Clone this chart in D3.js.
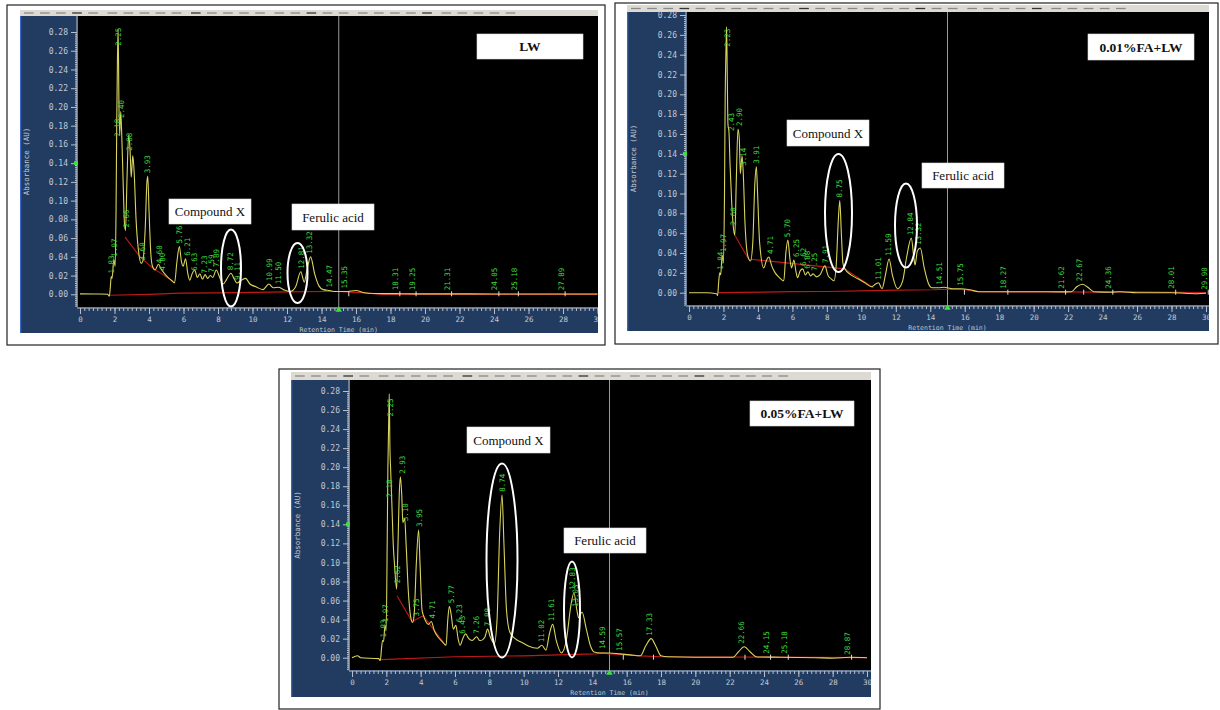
<!DOCTYPE html>
<html>
<head>
<meta charset="utf-8">
<script src="https://cdn.jsdelivr.net/npm/d3@7"></script>
<style>
  body { margin: 0; background: #fff; }
  svg { display: block; }
</style>
</head>
<body>
<div id="chart"></div>
<script>
// axis ticks
const absTicks = [0.00, 0.02, 0.04, 0.06, 0.08, 0.10, 0.12, 0.14, 0.16, 0.18, 0.20, 0.22, 0.24, 0.26, 0.28];
const timeTicks = [0, 2, 4, 6, 8, 10, 12, 14, 16, 18, 20, 22, 24, 26, 28, 30];

// LW : [retention time (min), absorbance (AU)]
const lwTrace = [
  [0, 0.0005], [1.0, 0.0003], [1.6, 0.0], [1.7, -0.002], [1.76, 0.008], [1.81, 0.019], [1.86, 0.017],
  [1.96, 0.037], [2.04, 0.030], [2.09, 0.09], [2.13, 0.183], [2.17, 0.25], [2.21, 0.283], [2.26, 0.20],
  [2.30, 0.17], [2.36, 0.195], [2.42, 0.17], [2.50, 0.12], [2.58, 0.075], [2.64, 0.068], [2.72, 0.12],
  [2.82, 0.170], [2.90, 0.155], [2.97, 0.125], [3.06, 0.148], [3.14, 0.13], [3.25, 0.08], [3.40, 0.045],
  [3.55, 0.033], [3.65, 0.036], [3.78, 0.07], [3.88, 0.12], [3.93, 0.126], [4.00, 0.09], [4.10, 0.045],
  [4.20, 0.030], [4.35, 0.026], [4.55, 0.032], [4.70, 0.027], [4.90, 0.022], [5.10, 0.018], [5.30, 0.015],
  [5.48, 0.012], [5.62, 0.035], [5.76, 0.051], [5.88, 0.035], [5.98, 0.030], [6.12, 0.038], [6.25, 0.022],
  [6.36, 0.015], [6.50, 0.022], [6.65, 0.026], [6.80, 0.018], [6.95, 0.022], [7.10, 0.016], [7.25, 0.021],
  [7.40, 0.017], [7.55, 0.020], [7.70, 0.018], [7.90, 0.026], [8.10, 0.018], [8.30, 0.011], [8.50, 0.016],
  [8.75, 0.0225], [8.95, 0.016], [9.10, 0.012], [9.35, 0.015], [9.60, 0.017], [9.85, 0.011], [10.2, 0.008],
  [10.6, 0.005], [10.95, 0.011], [11.2, 0.007], [11.5, 0.0075], [11.8, 0.005], [12.2, 0.003], [12.5, 0.008],
  [12.8, 0.024], [13.0, 0.013], [13.15, 0.025], [13.37, 0.040], [13.6, 0.022], [13.85, 0.009], [14.1, 0.005],
  [14.47, 0.004], [14.8, 0.003], [15.5, 0.003], [16.0, 0.004], [16.4, 0.002], [17.0, 0.0008], [18.3, 0.0007],
  [19.3, 0.0005], [21.3, 0.0005], [24.0, 0.0003], [25.2, 0.0003], [27.9, 0.0003], [30, 0.0003]
];
const lwBase = [
  [1.7, -0.001], [4.0, 0.0], [5.8, 0.0012], [8.0, 0.0015], [10.0, 0.002], [12.0, 0.0025], [14.2, 0.003],
  [15.0, 0.003], [16.5, 0.0015], [17.5, 0.0], [30, 0.0]
];
const lwDrop = [[2.61, 0.061], [3.48, 0.040], [4.15, 0.029], [5.41, 0.0135]];
const lwPeaks = [
  [1.83, 0.019], [1.97, 0.037], [2.18, 0.165], [2.25, 0.262], [2.40, 0.185], [2.66, 0.068], [2.88, 0.150],
  [3.60, 0.033], [3.93, 0.126], [4.60, 0.030], [4.80, 0.022], [5.76, 0.051], [6.21, 0.038], [6.63, 0.022],
  [7.23, 0.019], [7.59, 0.020], [7.89, 0.026], [8.72, 0.0225], [9.11, 0.012], [10.99, 0.011], [11.50, 0.0075],
  [12.81, 0.024], [13.32, 0.040], [14.47, 0.004], [15.35, 0.003], [18.31, 0.001], [19.25, 0.001],
  [21.31, 0.001], [24.05, 0.001], [25.18, 0.001], [27.89, 0.001]
];

// 0.01%FA+LW
const fa01Trace = [
  [0, 0.0], [1.0, 0.0], [1.6, -0.001], [1.66, -0.003], [1.72, 0.01], [1.78, 0.02], [1.84, 0.018], [1.92, 0.038],
  [2.0, 0.030], [2.06, 0.10], [2.10, 0.198], [2.14, 0.24], [2.18, 0.268], [2.22, 0.22], [2.26, 0.17],
  [2.32, 0.162], [2.38, 0.13], [2.48, 0.09], [2.58, 0.065], [2.66, 0.058], [2.74, 0.11], [2.84, 0.165],
  [2.92, 0.155], [2.98, 0.12], [3.08, 0.138], [3.15, 0.12], [3.25, 0.07], [3.40, 0.038], [3.57, 0.032],
  [3.70, 0.05], [3.82, 0.11], [3.91, 0.127], [3.98, 0.10], [4.10, 0.05], [4.34, 0.025], [4.50, 0.033],
  [4.63, 0.036], [4.80, 0.027], [5.0, 0.02], [5.2, 0.016], [5.5, 0.012], [5.62, 0.04], [5.74, 0.053],
  [5.85, 0.035], [5.95, 0.025], [6.09, 0.033], [6.20, 0.022], [6.30, 0.015], [6.45, 0.022], [6.60, 0.024],
  [6.75, 0.018], [6.90, 0.021], [7.05, 0.017], [7.20, 0.019], [7.40, 0.016], [7.60, 0.018], [7.89, 0.027],
  [8.05, 0.018], [8.25, 0.014], [8.41, 0.012], [8.55, 0.03], [8.67, 0.075], [8.75, 0.093], [8.84, 0.06],
  [8.93, 0.03], [9.02, 0.025], [9.4, 0.018], [9.8, 0.014], [10.2, 0.01], [10.6, 0.006], [10.85, 0.009],
  [11.0, 0.01], [11.2, 0.004], [11.4, 0.018], [11.61, 0.034], [11.8, 0.018], [12.1, 0.004], [12.4, 0.012],
  [12.62, 0.035], [12.9, 0.055], [13.05, 0.035], [13.12, 0.028], [13.25, 0.042], [13.42, 0.045],
  [13.65, 0.025], [13.9, 0.009], [14.1, 0.005], [14.5, 0.005], [14.8, 0.0055], [15.3, 0.004], [15.75, 0.004],
  [16.3, 0.003], [16.8, 0.001], [18.3, 0.001], [20, 0.001], [21.6, 0.0008], [22.2, 0.001], [22.5, 0.006],
  [22.84, 0.0085], [23.1, 0.006], [23.5, 0.001], [24.4, 0.0005], [25.0, 0.001], [26, 0.0], [28, 0.0],
  [29.5, -0.001], [30, -0.0005]
];
const fa01Base = [
  [1.7, 0.0], [5.9, 0.001], [8.0, 0.0012], [10.7, 0.002], [12.0, 0.0025], [14.2, 0.003], [15.0, 0.0035],
  [16.0, 0.003], [16.8, 0.001], [22.0, 0.0008], [23.5, 0.0005], [24.3, 0.001], [30, 0.0]
];
const fa01Drop = [[2.66, 0.058], [3.45, 0.034], [9.02, 0.024], [10.7, 0.005]];
const fa01Peaks = [
  [1.84, 0.020], [1.97, 0.038], [2.23, 0.245], [2.43, 0.160], [2.60, 0.065], [2.90, 0.165], [3.14, 0.125],
  [3.91, 0.127], [4.71, 0.036], [5.70, 0.053], [6.25, 0.033], [6.62, 0.024], [6.88, 0.021], [7.25, 0.019],
  [7.91, 0.027], [8.75, 0.093], [11.01, 0.010], [11.59, 0.034], [12.84, 0.055], [13.32, 0.045],
  [14.51, 0.005], [15.75, 0.004], [18.27, 0.001], [21.62, 0.001], [22.67, 0.0085], [24.36, 0.001],
  [28.01, 0.001], [29.90, 0.0]
];

// 0.05%FA+LW
const fa05Trace = [
  [0, 0.0], [0.33, 0.002], [0.5, 0.0], [1.55, -0.001], [1.65, -0.003], [1.72, 0.01], [1.78, 0.018],
  [1.84, 0.017], [1.92, 0.034], [1.99, 0.029], [2.05, 0.12], [2.09, 0.198], [2.13, 0.24], [2.17, 0.277],
  [2.21, 0.22], [2.25, 0.198], [2.32, 0.163], [2.40, 0.12], [2.48, 0.097], [2.60, 0.072], [2.68, 0.12],
  [2.76, 0.175], [2.82, 0.19], [2.90, 0.17], [2.96, 0.142], [3.07, 0.146], [3.15, 0.12], [3.28, 0.07],
  [3.40, 0.045], [3.53, 0.037], [3.62, 0.045], [3.75, 0.10], [3.88, 0.134], [3.96, 0.10], [4.08, 0.05],
  [4.17, 0.044], [4.30, 0.038], [4.45, 0.035], [4.62, 0.038], [4.80, 0.028], [5.0, 0.022], [5.25, 0.017],
  [5.48, 0.013], [5.58, 0.04], [5.67, 0.054], [5.78, 0.045], [5.90, 0.030], [6.05, 0.034], [6.18, 0.02],
  [6.30, 0.013], [6.45, 0.02], [6.62, 0.025], [6.80, 0.02], [7.00, 0.018], [7.26, 0.022], [7.45, 0.018],
  [7.62, 0.019], [7.75, 0.022], [7.90, 0.030], [8.05, 0.022], [8.29, 0.015], [8.45, 0.04], [8.60, 0.13],
  [8.74, 0.171], [8.85, 0.12], [9.0, 0.05], [9.19, 0.027], [9.5, 0.02], [9.9, 0.016], [10.3, 0.012],
  [10.8, 0.01], [11.06, 0.013], [11.3, 0.008], [11.5, 0.025], [11.69, 0.035], [11.9, 0.018], [12.2, 0.005],
  [12.5, 0.02], [12.75, 0.055], [12.93, 0.068], [13.1, 0.05], [13.2, 0.042], [13.4, 0.048], [13.65, 0.03],
  [13.9, 0.012], [14.1, 0.006], [14.5, 0.005], [15.0, 0.005], [15.6, 0.004], [16.2, 0.003], [16.8, 0.002],
  [17.1, 0.012], [17.43, 0.020], [17.7, 0.012], [18.0, 0.002], [18.4, 0.001], [20, 0.0005], [22.2, 0.0005],
  [22.5, 0.006], [22.85, 0.0115], [23.2, 0.006], [23.6, 0.0008], [25, 0.0005], [27, 0.0], [28, -0.0005],
  [29, 0.0005], [30, 0.0]
];
const fa05Base = [
  [1.7, -0.002], [6.0, 0.001], [10.0, 0.002], [12.0, 0.003], [14.2, 0.004], [14.6, 0.005], [15.0, 0.004],
  [16.0, 0.003], [16.8, 0.002], [18.0, 0.001], [30, 0.0]
];
const fa05Drop = [[2.62, 0.065], [3.50, 0.038], [4.15, 0.044], [5.45, 0.013]];
const fa05Peaks = [
  [1.83, 0.018], [1.97, 0.034], [2.18, 0.165], [2.25, 0.250], [2.62, 0.075], [2.93, 0.190], [3.10, 0.140],
  [3.75, 0.040], [3.95, 0.134], [4.71, 0.038], [5.77, 0.054], [6.23, 0.034], [6.43, 0.022], [7.26, 0.022],
  [7.88, 0.030], [8.74, 0.171], [11.02, 0.013], [11.61, 0.035], [12.83, 0.068], [13.03, 0.050],
  [14.59, 0.006], [15.57, 0.004], [17.33, 0.020], [22.66, 0.0115], [24.15, 0.001], [25.18, 0.001],
  [28.87, 0.0]
];

const W = 1220, H = 710;
const svg = d3.select("#chart").append("svg")
    .attr("width", W)
    .attr("height", H);

const mono = "'DejaVu Sans Mono', monospace";
const serif = "'Liberation Serif', 'Times New Roman', serif";

// layout of the three screenshots
const panels = [
  { frame: [7, 5, 605, 345], left: 20, right: 598, bar: [10, 16], top: 16, bottom: 307, blueBottom: 333,
    xr: [80, 597.5], yr: [294.3, 32], titleY: 329.5,
    tag: ["LW", 477, 34, 106, 25], cmp: [169, 199, 82, 25], fer: [292, 204, 82, 26],
    cmpEll: [231, 268, 10, 38.5], ferEll: [297.5, 273, 10, 30],
    trace: lwTrace, base: lwBase, drop: lwDrop, peaks: lwPeaks },
  { frame: [615, 3, 1218, 344], left: 627, right: 1209, bar: [5, 12], top: 12, bottom: 305, blueBottom: 331,
    xr: [689, 1206], yr: [292.7, 15], titleY: 327.5,
    tag: ["0.01%FA+LW", 1088, 34, 106, 26], cmp: [787, 120, 82, 26], fer: [922, 163, 82, 25],
    cmpEll: [838.5, 213, 13.5, 59], ferEll: [906, 225.5, 11, 42],
    trace: fa01Trace, base: fa01Base, drop: fa01Drop, peaks: fa01Peaks },
  { frame: [279, 369, 880, 709], left: 291, right: 871, bar: [372, 380], top: 380, bottom: 670, blueBottom: 697,
    xr: [352, 867], yr: [657.7, 391], titleY: 692.5,
    tag: ["0.05%FA+LW", 750, 401, 104, 25], cmp: [467, 427, 83, 26], fer: [564, 528, 82, 25],
    cmpEll: [502, 560.5, 15.5, 97], ferEll: [572, 609.5, 8, 48],
    trace: fa05Trace, base: fa05Base, drop: fa05Drop, peaks: fa05Peaks }
];

panels.forEach((p, i) => drawPanel(p, i));

function drawPanel(p, i) {
  const g = svg.append("g");
  const clipId = "clip" + i, plotClip = "plotclip" + i;

  g.append("rect")
      .attr("x", p.frame[0]).attr("y", p.frame[1])
      .attr("width", p.frame[2] - p.frame[0]).attr("height", p.frame[3] - p.frame[1])
      .attr("fill", "#fff").attr("stroke", "#222").attr("stroke-width", 1.2);

  const defs = g.append("defs");
  defs.append("clipPath").attr("id", clipId).append("rect")
      .attr("x", p.left).attr("y", p.bar[0])
      .attr("width", p.right - p.left).attr("height", p.blueBottom - p.bar[0]);
  defs.append("clipPath").attr("id", plotClip).append("rect")
      .attr("x", p.xr[0] - 2).attr("y", p.top)
      .attr("width", p.right - p.xr[0] + 2).attr("height", p.bottom - p.top);

  const shot = g.append("g").attr("clip-path", `url(#${clipId})`);

  // toolbar strip
  shot.append("rect")
      .attr("x", p.left).attr("y", p.bar[0])
      .attr("width", p.right - p.left + 4).attr("height", p.bar[1] - p.bar[0])
      .attr("fill", "#dcdad2");
  const iconStep = (p.right - p.left) / 36;
  d3.range(30).forEach(k => {
    const gx = p.left + 4 + k * iconStep + Math.floor(k / 5) * iconStep * 0.2;
    shot.append("line")
        .attr("x1", gx).attr("x2", gx + iconStep * 0.6)
        .attr("y1", (p.bar[0] + p.bar[1]) / 2).attr("y2", (p.bar[0] + p.bar[1]) / 2)
        .attr("stroke", k % 7 === 3 ? "#333" : "#8a8a8a").attr("stroke-width", 1.3);
  });

  // blue frame and black plot
  shot.append("rect")
      .attr("x", p.left).attr("y", p.bar[1])
      .attr("width", p.right - p.left).attr("height", p.blueBottom - p.bar[1])
      .attr("fill", "#213c60");
  shot.append("rect")
      .attr("x", p.xr[0] - 2).attr("y", p.top)
      .attr("width", p.right - p.xr[0] + 2).attr("height", p.bottom - p.top)
      .attr("fill", "#000");
  shot.append("line")
      .attr("x1", p.left + 0.5).attr("x2", p.left + 0.5)
      .attr("y1", p.bar[1]).attr("y2", p.blueBottom)
      .attr("stroke", "#3a63c8").attr("stroke-width", 1.5);

  const x = d3.scaleLinear().domain([0, 30]).range(p.xr);
  const y = d3.scaleLinear().domain([0, 0.28]).range(p.yr);
  const axisX = p.xr[0] - 3;

  // y axis
  const yMinor = d3.range(-0.012, 0.2805, 0.002).map(v => +v.toFixed(3));
  const ya = shot.append("g").attr("transform", `translate(${axisX},0)`);
  ya.append("g").call(d3.axisLeft(y).tickValues(yMinor).tickSize(2).tickFormat(""));
  ya.append("g").call(d3.axisLeft(y).tickValues(absTicks).tickSize(6).tickPadding(3)
      .tickFormat(d3.format(".2f")));
  ya.selectAll("path.domain").remove();
  ya.append("line").attr("y1", p.top).attr("y2", p.bottom).attr("stroke", "#b8bfcc");
  ya.selectAll("line").attr("stroke", "#b8bfcc");
  ya.selectAll("text").attr("fill", "#c2c8d4").style("font-family", mono).style("font-size", "8px");

  // x axis
  const xMinor = d3.range(0, 30.01, 0.25);
  const xa = shot.append("g").attr("transform", `translate(0,${p.bottom + 1})`);
  xa.append("g").call(d3.axisBottom(x).tickValues(xMinor).tickSize(3).tickFormat(""));
  xa.append("g").call(d3.axisBottom(x).tickValues(timeTicks).tickSize(6).tickPadding(3)
      .tickFormat(d3.format("d")));
  xa.selectAll("path.domain").remove();
  xa.append("line").attr("x1", p.xr[0] - 3).attr("x2", p.right).attr("stroke", "#b8bfcc");
  xa.selectAll("line").attr("stroke", "#b8bfcc");
  xa.selectAll("text").attr("fill", "#c2c8d4").style("font-family", mono).style("font-size", "7.5px");

  shot.append("text")
      .attr("x", (p.xr[0] + p.xr[1]) / 2).attr("y", p.titleY)
      .attr("dy", "0.35em")
      .attr("text-anchor", "middle")
      .attr("fill", "#c2c8d4").style("font-family", mono).style("font-size", "6.5px")
      .text("Retention Time (min)");
  const midY = (p.top + p.bottom) / 2;
  shot.append("text")
      .attr("transform", `translate(${p.left + 6},${midY}) rotate(-90)`)
      .attr("text-anchor", "middle").attr("dy", "0.35em")
      .attr("fill", "#c2c8d4").style("font-family", mono).style("font-size", "7.5px")
      .text("Absorbance (AU)");

  // markers: cursor at 15 min, green pointers
  const plot = shot.append("g").attr("clip-path", `url(#${plotClip})`);
  plot.append("line")
      .attr("x1", x(15)).attr("x2", x(15))
      .attr("y1", p.top).attr("y2", p.bottom)
      .attr("stroke", "#9a9a9a").attr("stroke-width", 1);
  shot.append("path")
      .attr("d", d3.symbol(d3.symbolTriangle, 18)())
      .attr("transform", `translate(${x(15)},${p.bottom + 3})`)
      .attr("fill", "#3ee03e");
  shot.append("rect")
      .attr("x", axisX - 3).attr("y", y(0.14) - 2)
      .attr("width", 4).attr("height", 4)
      .attr("fill", "#3ee03e");

  // integration baseline (red) and trace (yellow)
  const line = d3.line().x(d => x(d[0])).y(d => y(d[1]));
  plot.append("path").datum(p.base).attr("d", line)
      .attr("fill", "none").attr("stroke", "#c01818").attr("stroke-width", 1.2);
  plot.append("path").datum(p.drop).attr("d", line)
      .attr("fill", "none").attr("stroke", "#c01818").attr("stroke-width", 1.1);
  plot.append("path").datum(p.trace)
      .attr("d", line.curve(d3.curveMonotoneX))
      .attr("fill", "none").attr("stroke", "#d9d45c").attr("stroke-width", 1.1);

  // peak retention-time labels
  plot.selectAll("text.peak")
      .data(p.peaks)
      .enter()
      .append("text")
      .attr("class", "peak")
      .attr("transform", d => `translate(${x(d[0])},${y(d[1]) - 3}) rotate(-90)`)
      .attr("dy", "0.35em")
      .attr("fill", "#3fdc3f")
      .style("font-family", mono)
      .style("font-size", "7.5px")
      .text(d => d[0].toFixed(2));
  plot.selectAll("line.evt")
      .data(p.peaks.filter(d => d[0] > 15))
      .enter()
      .append("line")
      .attr("x1", d => x(d[0]) + 4).attr("x2", d => x(d[0]) + 4)
      .attr("y1", y(0) - 3).attr("y2", y(0) + 2)
      .attr("stroke", "#ddd");

  // annotation boxes
  const box = (b, txt, bold) => {
    g.append("rect")
        .attr("x", b[0]).attr("y", b[1]).attr("width", b[2]).attr("height", b[3])
        .attr("fill", "#fff").attr("stroke", "#ddd").attr("stroke-width", 0.6);
    g.append("text")
        .attr("x", b[0] + b[2] / 2).attr("y", b[1] + b[3] / 2)
        .attr("dy", "0.35em").attr("text-anchor", "middle")
        .style("font-family", serif)
        .style("font-size", bold ? "13.5px" : "13px")
        .style("font-weight", bold ? "bold" : "normal")
        .attr("fill", "#111")
        .text(txt);
  };
  box(p.tag.slice(1), p.tag[0], true);
  box(p.cmp, "Compound X", false);
  box(p.fer, "Ferulic acid", false);

  [p.cmpEll, p.ferEll].forEach(e => {
    g.append("ellipse")
        .attr("cx", e[0]).attr("cy", e[1]).attr("rx", e[2]).attr("ry", e[3])
        .attr("fill", "none").attr("stroke", "#fff").attr("stroke-width", 2);
  });
}
</script>
</body>
</html>
